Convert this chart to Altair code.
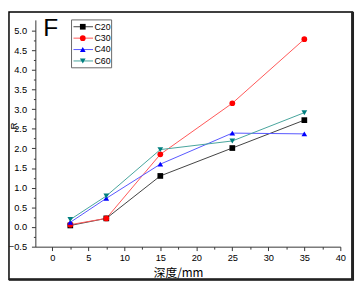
import altair as alt
import pandas as pd

# ---- data ----
depth = [2.5, 7.5, 15, 25, 35]
series_names = ["C20", "C30", "C40", "C60"]
c20 = [0.04, 0.22, 1.30, 2.01, 2.72]
c30 = [0.06, 0.22, 1.85, 3.15, 4.78]
c40 = [0.12, 0.73, 1.60, 2.39, 2.37]
c60 = [0.19, 0.79, 1.97, 2.19, 2.91]

line_colors = ["#404040", "#ff5555", "#5555ff", "#45a39b"]
marker_colors = ["#000000", "#ff0000", "#0000ff", "#007f7f"]
marker_shapes = ["square", "circle", "triangle-up", "triangle-down"]
marker_sizes = [34, 34, 44, 44]

x_ticks = [0, 2.5, 5, 7.5, 10, 12.5, 15, 17.5, 20, 22.5, 25, 27.5, 30, 32.5, 35, 37.5, 40]
y_ticks = [-0.5, -0.25, 0.0, 0.25, 0.5, 0.75, 1.0, 1.25, 1.5, 1.75, 2.0, 2.25, 2.5, 2.75,
           3.0, 3.25, 3.5, 3.75, 4.0, 4.25, 4.5, 4.75, 5.0]
panel_label = ["F"]
x_title = "深度/mm"
y_title = "R"

rows = []
for name, vals in zip(series_names, [c20, c30, c40, c60]):
    for d, v in zip(depth, vals):
        rows.append({"series": name, "depth": d, "value": v})
df = pd.DataFrame(rows)
legend_df = pd.DataFrame({"series": series_names})
one = pd.DataFrame({"label": panel_label})

FONT = "Liberation Sans"

x_enc = alt.X(
    "depth:Q",
    scale=alt.Scale(domain=[-2.35, 40], nice=False, zero=False),
    axis=alt.Axis(
        values=x_ticks, title=x_title, grid=False,
        labelExpr="datum.value % 5 === 0 ? datum.label : ''",
        tickSize={"condition": {"test": "datum.value % 5 === 0", "value": 4}, "value": 2.5},
        labelFlush=False, labelOverlap=False, labelPadding=2,
        labelFont=FONT, labelFontSize=9.5, labelColor="#000",
        titleFont="Noto Sans CJK SC", titleFontSize=12, titleFontWeight="normal",
        titleColor="#000", titleX=146, titleY=31, titleBaseline="alphabetic",
        domainColor="#333", tickColor="#333",
    ),
)
y_enc = alt.Y(
    "value:Q",
    scale=alt.Scale(domain=[-0.5, 5.27], nice=False, zero=False),
    axis=alt.Axis(
        values=y_ticks, title=y_title, grid=False, format=".1f",
        labelExpr="datum.value % 0.5 === 0 ? datum.label : ''",
        tickSize={"condition": {"test": "datum.value % 0.5 === 0", "value": 4}, "value": 2},
        labelFlush=False, labelOverlap=False, labelPadding=5,
        labelFont=FONT, labelFontSize=9.5, labelColor="#000",
        titleFont=FONT, titleFontSize=10, titleFontWeight="normal", titleColor="#000",
        titleAngle=270, titleX=-22.5, titleY=108, titleAlign="center", titleBaseline="middle",
        domainColor="#333", tickColor="#333",
    ),
)

stroke_enc = alt.Stroke("series:N", scale=alt.Scale(domain=series_names, range=line_colors), legend=None)
fill_enc = alt.Fill("series:N", scale=alt.Scale(domain=series_names, range=marker_colors), legend=None)
shape_enc = alt.Shape("series:N", scale=alt.Scale(domain=series_names, range=marker_shapes), legend=None)
size_enc = alt.Size("series:N", scale=alt.Scale(domain=series_names, range=marker_sizes), legend=None)

lines = alt.Chart(df).mark_line(strokeWidth=1).encode(x=x_enc, y=y_enc, stroke=stroke_enc)
points = alt.Chart(df).mark_point(filled=True, opacity=1).encode(
    x=x_enc, y=y_enc, fill=fill_enc, shape=shape_enc, size=size_enc)
main = alt.layer(lines, points)

ly = alt.Y("series:N", scale=alt.Scale(type="point", domain=series_names, range=[7, 42], padding=0), axis=None)
leg_box = alt.Chart(one).mark_rect(fillOpacity=0, stroke="#666", strokeWidth=1).encode(
    x=alt.value(37), x2=alt.value(78), y=alt.value(0), y2=alt.value(49))
leg_line = alt.Chart(legend_df).mark_rule(strokeWidth=1).encode(
    x=alt.value(39), x2=alt.value(59), y=ly, stroke=stroke_enc)
leg_pts = alt.Chart(legend_df).mark_point(filled=True, opacity=1).encode(
    x=alt.value(48.5), y=ly, fill=fill_enc, shape=shape_enc, size=size_enc)
leg_txt = alt.Chart(legend_df).mark_text(align="left", baseline="middle", font=FONT, fontSize=9, color="#000").encode(
    x=alt.value(60.5), y=ly, text="series:N")
legend = alt.layer(leg_box, leg_line, leg_pts, leg_txt)

flabel = alt.Chart(one).mark_text(align="left", baseline="alphabetic", font=FONT, fontSize=25, color="#000").encode(
    x=alt.value(8), y=alt.value(16), text="label:N")
frame = alt.Chart(one).mark_rect(fillOpacity=0, stroke="#000", strokeWidth=1.5).encode(
    x=alt.value(-27), x2=alt.value(324.5), y=alt.value(-8), y2=alt.value(265.5))
shadow_r = alt.Chart(one).mark_rule(stroke="#222", strokeWidth=3).encode(
    x=alt.value(324.5), y=alt.value(-8), y2=alt.value(266))
shadow_b = alt.Chart(one).mark_rule(stroke="#222", strokeWidth=2.5).encode(
    x=alt.value(-27), x2=alt.value(326), y=alt.value(265.5))

chart = alt.layer(main, legend, flabel, frame, shadow_r, shadow_b).resolve_scale(y="independent").properties(
    width=312, height=232,
    padding={"left": 28, "top": 9, "right": 15, "bottom": 35},
    autosize=alt.AutoSizeParams(type="none"),
    background="white",
).configure_view(stroke=None)

chart.save("out.html", embed_options={"renderer": "svg", "actions": False})
